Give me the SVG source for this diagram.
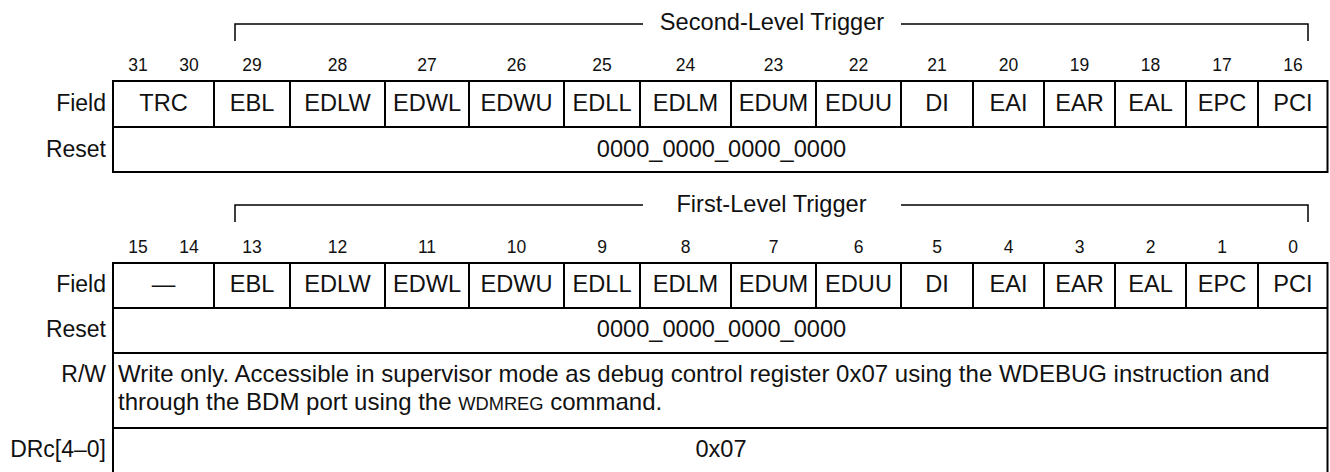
<svg xmlns="http://www.w3.org/2000/svg" width="1330" height="472" viewBox="0 0 1330 472">
<style>
text{font-family:"Liberation Sans",Arial,sans-serif;fill:#111}
.lb{font-size:23.6px}
.rl{font-size:23px;text-anchor:end}
.tx{font-size:24px}
.num{font-size:17.5px;text-anchor:middle}
.c{text-anchor:middle}
.tbl{fill:#fff;stroke:#000;stroke-width:2}
.ln{stroke:#000;stroke-width:2;fill:none}
.br{stroke:#000;stroke-width:1.5;fill:none}
.sc{font-size:18.3px}
</style>
<rect width="1330" height="472" fill="#fff"/>
<g id="brackets">
<path class="br" d="M235,41V24H643M901,24H1308V41"/>
<path class="br" d="M235,222V205H643M901,205H1308V222"/>
</g>
<g id="titles">
<text class="lb c" x="772" y="29.5">Second-Level Trigger</text>
<text class="lb c" x="771.5" y="212">First-Level Trigger</text>
</g>
<g id="upper-register">
<g class="num-row">
<text class="num" x="138" y="71">31</text>
<text class="num" x="189" y="71">30</text>
<text class="num" x="252" y="71">29</text>
<text class="num" x="337.5" y="71">28</text>
<text class="num" x="427" y="71">27</text>
<text class="num" x="516.5" y="71">26</text>
<text class="num" x="602" y="71">25</text>
<text class="num" x="685.5" y="71">24</text>
<text class="num" x="773.5" y="71">23</text>
<text class="num" x="858.5" y="71">22</text>
<text class="num" x="937" y="71">21</text>
<text class="num" x="1008.5" y="71">20</text>
<text class="num" x="1079.5" y="71">19</text>
<text class="num" x="1150.5" y="71">18</text>
<text class="num" x="1222" y="71">17</text>
<text class="num" x="1293" y="71">16</text>
</g>
<rect class="tbl" x="113" y="81" width="1214.5" height="91"/>
<path class="ln" d="M113,127H1327.5M214,81V127M290,81V127M385,81V127M469,81V127M564,81V127M640,81V127M731,81V127M816,81V127M901,81V127M973,81V127M1044,81V127M1115,81V127M1186,81V127M1258,81V127"/>
<text class="rl" x="106" y="111">Field</text>
<text class="rl" x="106" y="157">Reset</text>
<g class="lb c">
<text x="163.5" y="111">TRC</text>
<text x="252" y="111">EBL</text>
<text x="337.5" y="111">EDLW</text>
<text x="427" y="111">EDWL</text>
<text x="516.5" y="111">EDWU</text>
<text x="602" y="111">EDLL</text>
<text x="685.5" y="111">EDLM</text>
<text x="773.5" y="111">EDUM</text>
<text x="858.5" y="111">EDUU</text>
<text x="937" y="111">DI</text>
<text x="1008.5" y="111">EAI</text>
<text x="1079.5" y="111">EAR</text>
<text x="1150.5" y="111">EAL</text>
<text x="1222" y="111">EPC</text>
<text x="1293" y="111">PCI</text>
<text x="721.5" y="157">0000_0000_0000_0000</text>
</g>
</g>
<g id="lower-register">
<g class="num-row">
<text class="num" x="138" y="253">15</text>
<text class="num" x="189" y="253">14</text>
<text class="num" x="252" y="253">13</text>
<text class="num" x="337.5" y="253">12</text>
<text class="num" x="427" y="253">11</text>
<text class="num" x="516.5" y="253">10</text>
<text class="num" x="602" y="253">9</text>
<text class="num" x="685.5" y="253">8</text>
<text class="num" x="773.5" y="253">7</text>
<text class="num" x="858.5" y="253">6</text>
<text class="num" x="937" y="253">5</text>
<text class="num" x="1008.5" y="253">4</text>
<text class="num" x="1079.5" y="253">3</text>
<text class="num" x="1150.5" y="253">2</text>
<text class="num" x="1222" y="253">1</text>
<text class="num" x="1293" y="253">0</text>
</g>
<rect class="tbl" x="113" y="263" width="1214.5" height="212"/>
<path class="ln" d="M113,308H1327.5M113,353H1327.5M113,428H1327.5M214,263V308M290,263V308M385,263V308M469,263V308M564,263V308M640,263V308M731,263V308M816,263V308M901,263V308M973,263V308M1044,263V308M1115,263V308M1186,263V308M1258,263V308"/>
<text class="rl" x="106" y="292">Field</text>
<text class="rl" x="106" y="336.5">Reset</text>
<text class="rl" x="106" y="382">R/W</text>
<text class="rl" x="106" y="456.5">DRc[4–0]</text>
<g class="lb c">
<text x="163.5" y="292">—</text>
<text x="252" y="292">EBL</text>
<text x="337.5" y="292">EDLW</text>
<text x="427" y="292">EDWL</text>
<text x="516.5" y="292">EDWU</text>
<text x="602" y="292">EDLL</text>
<text x="685.5" y="292">EDLM</text>
<text x="773.5" y="292">EDUM</text>
<text x="858.5" y="292">EDUU</text>
<text x="937" y="292">DI</text>
<text x="1008.5" y="292">EAI</text>
<text x="1079.5" y="292">EAR</text>
<text x="1150.5" y="292">EAL</text>
<text x="1222" y="292">EPC</text>
<text x="1293" y="292">PCI</text>
<text x="721.5" y="336.5">0000_0000_0000_0000</text>
<text x="721" y="456.5">0x07</text>
</g>
<text class="tx" x="118" y="382">Write only. Accessible in supervisor mode as debug control register 0x07 using the WDEBUG instruction and</text>
<text class="tx" x="118" y="410">through the BDM port using the <tspan class="sc">WDMREG</tspan> command.</text>
</g>
</svg>
